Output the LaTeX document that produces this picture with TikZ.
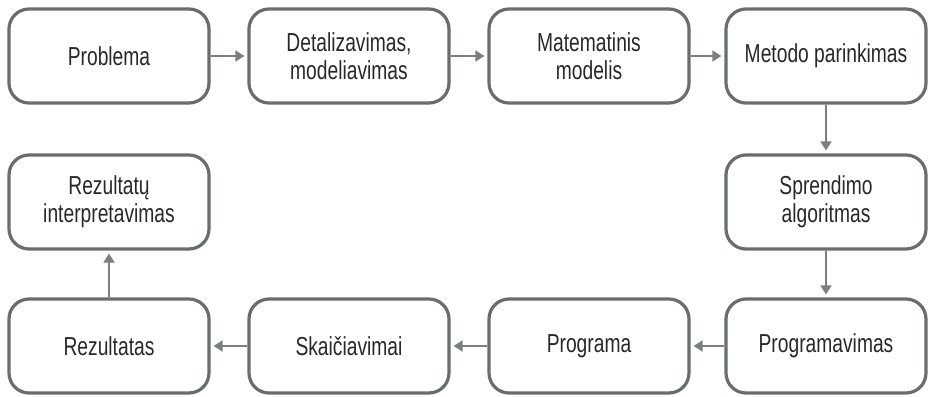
\documentclass[tikz,border=0pt]{standalone}
\usepackage{fontspec}
\setmainfont{Liberation Sans}[FakeStretch=0.74]
\usetikzlibrary{arrows.meta}
\definecolor{boxline}{RGB}{104,110,110}
\definecolor{arrowline}{RGB}{122,128,128}
\definecolor{txt}{RGB}{40,40,40}
\begin{document}
\begin{tikzpicture}[x=1pt,y=-1pt,
  stepbox/.style={draw=boxline, line width=3.2pt, rounded corners=20pt,
    minimum width=200pt, minimum height=94pt, align=center, text=txt,
    font=\fontsize{26}{28}\selectfont, inner sep=0pt},
  flow/.style={draw=arrowline, line width=1.8pt,
    -{Triangle[length=9pt,width=11pt]}, shorten <=0pt, shorten >=3pt}]
\useasboundingbox (0,0) rectangle (928,396);
% top row
\node[stepbox] (problema) at (109,56) {Problema};
\node[stepbox] (detal) at (349,56) {Detalizavimas,\\modeliavimas};
\node[stepbox] (matmod) at (589,56) {Matematinis\\modelis};
\node[stepbox] (metodo) at (826,56) {Metodo parinkimas};
% middle row
\node[stepbox] (interp) at (109,202) {Rezultatų\\interpretavimas};
\node[stepbox] (algor) at (826,202) {Sprendimo\\algoritmas};
% bottom row
\node[stepbox] (rez) at (109,346) {Rezultatas};
\node[stepbox] (skaic) at (349,346) {Skaičiavimai};
\node[stepbox] (progr) at (589,346) {Programa};
\node[stepbox] (progrv) at (826,346) {Programavimas};
% connectors
\draw[flow] (problema) -- (detal);
\draw[flow] (detal) -- (matmod);
\draw[flow] (matmod) -- (metodo);
\draw[flow] (metodo) -- (algor);
\draw[flow] (algor) -- (progrv);
\draw[flow] (progrv) -- (progr);
\draw[flow] (progr) -- (skaic);
\draw[flow] (skaic) -- (rez);
\draw[flow] (rez) -- (interp);
\end{tikzpicture}
\end{document}
